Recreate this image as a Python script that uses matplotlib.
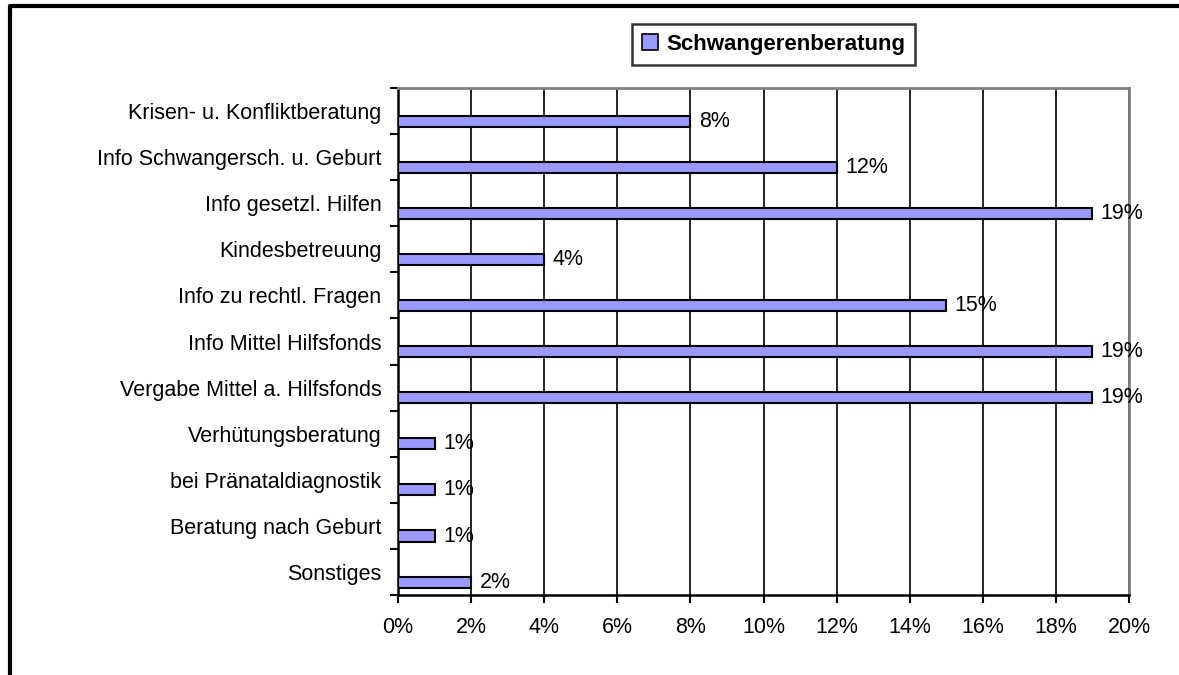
import matplotlib
matplotlib.use("Agg")
import matplotlib.pyplot as plt
from matplotlib.lines import Line2D
from matplotlib.patches import Patch
from matplotlib.ticker import FixedLocator, PercentFormatter

categories = [
    "Krisen- u. Konfliktberatung",
    "Info Schwangersch. u. Geburt",
    "Info gesetzl. Hilfen",
    "Kindesbetreuung",
    "Info zu rechtl. Fragen",
    "Info Mittel Hilfsfonds",
    "Vergabe Mittel a. Hilfsfonds",
    "Verhütungsberatung",
    "bei Pränataldiagnostik",
    "Beratung nach Geburt",
    "Sonstiges",
]
values = [8, 12, 19, 4, 15, 19, 19, 1, 1, 1, 2]
series_name = "Schwangerenberatung"
x_ticks = [0, 2, 4, 6, 8, 10, 12, 14, 16, 18, 20]

plt.rcParams['font.family'] = ['Liberation Sans', 'DejaVu Sans']
FS = 15.5

fig = plt.figure(figsize=(11.79, 6.75), dpi=100)
ax = fig.add_axes([398/1179, 1-595/675, (1129-398)/1179, (595-88)/675])

pos = list(range(len(categories)))
offset = 0.22
ax.barh([p + offset for p in pos], values, height=0.24, color="#9999FF",
        edgecolor="black", linewidth=1.5, zorder=3)
for p, v in zip(pos, values):
    ax.annotate(f"{v}%", xy=(v, p + offset), xytext=(6, 0), textcoords="offset points",
                va="center", ha="left", fontsize=FS, zorder=4)

ax.set_xlim(0, 20)
ax.set_ylim(len(categories) - 0.5, -0.5)
ax.xaxis.set_major_locator(FixedLocator(x_ticks))
ax.xaxis.set_major_formatter(PercentFormatter(decimals=0))
ax.set_yticks(pos)
ax.set_yticklabels(categories, fontsize=FS)
ax.yaxis.set_minor_locator(FixedLocator([p - 0.5 for p in pos] + [len(pos) - 0.5]))
ax.tick_params(axis="y", which="major", length=0, pad=12)
ax.tick_params(axis="y", which="minor", length=6, width=1.5, direction="out")
ax.tick_params(axis="x", which="major", length=6, width=1.5, direction="out", labelsize=FS, pad=10)

ax.grid(axis="x", color="black", linewidth=1.2, zorder=1)
ax.set_axisbelow(True)
for s in ("top", "right"):
    ax.spines[s].set_color("#808080")
    ax.spines[s].set_linewidth(2)
for s in ("left", "bottom"):
    ax.spines[s].set_color("black")
    ax.spines[s].set_linewidth(1.8)

handle = Patch(facecolor="#9999FF", edgecolor="black", linewidth=1.2)
leg = fig.legend([handle], [series_name], loc="upper left",
                 bbox_to_anchor=(632/1179, 1-24/675), frameon=True, fancybox=False,
                 prop={"size": 16, "weight": "bold"}, handlelength=0.7, handleheight=0.7,
                 handletextpad=0.4, borderpad=0.45, borderaxespad=0)
leg.get_frame().set_edgecolor("black")
leg.get_frame().set_linewidth(1.8)

# outer border (top and left visible, extends off canvas)
fig.add_artist(Line2D([10/1179, 10/1179, 1.05], [-0.05, 1-6/675, 1-6/675],
                      transform=fig.transFigure, color="black", linewidth=3))

fig.savefig("out.png", dpi=100, facecolor="white")
